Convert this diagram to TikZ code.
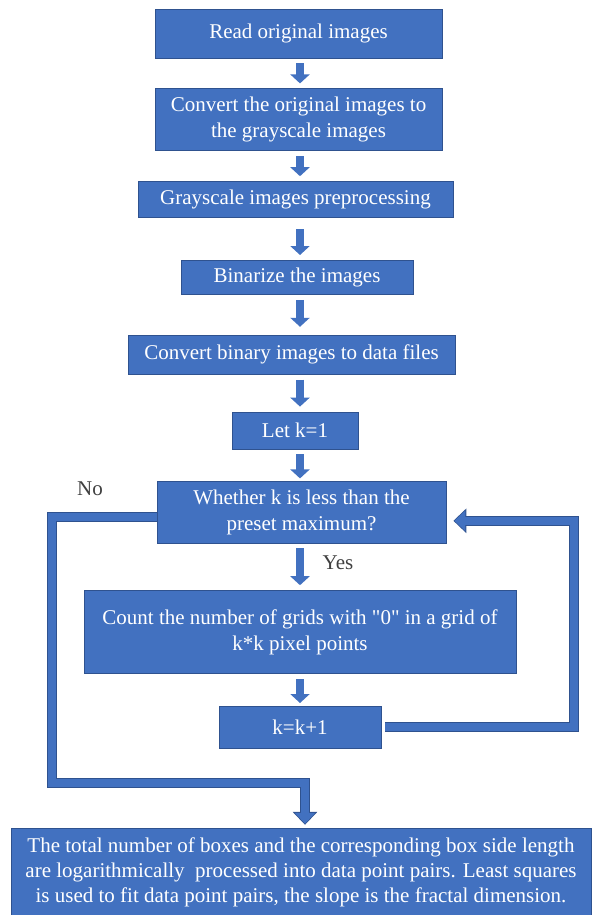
\documentclass[tikz,border=0pt]{standalone}
\usepackage{fontspec}
\setmainfont{Liberation Serif}[Ligatures=TeXOff]
\usetikzlibrary{arrows.meta,positioning,calc}
\definecolor{boxblue}{RGB}{66,113,192}
\definecolor{boxedge}{RGB}{47,82,143}
\definecolor{labelgray}{RGB}{64,64,64}

\begin{document}
\begin{tikzpicture}[x=1pt,y=-1pt,
  stepbox/.style={rectangle,draw=boxedge,fill=boxblue,line width=0.8pt,text=white,
    align=center,inner sep=0pt,font=\fontsize{21}{26}\selectfont},
  downarrow/.style={draw=boxblue,line width=8pt,-{Triangle[width=19pt,length=9pt]},
    shorten <=5pt,shorten >=5pt},
  looparrow/.style={draw=boxblue,line width=8pt,-{Triangle[width=20pt,length=11pt]},shorten >=1pt,
    preaction={draw=boxedge,line width=10pt,-{Triangle[width=24pt,length=13pt]},shorten >=0pt}},
  answer/.style={text=labelgray,font=\fontsize{21}{26}\selectfont}]
\useasboundingbox (0,0) rectangle (597,915);
\coordinate (spine) at (300,0);

\node[stepbox,minimum width=287pt,minimum height=49pt] (read) at (298.5,33.5) {Read original images};
\node[stepbox,minimum width=287pt,minimum height=62pt] (gray) [below=30pt of read]
  {Convert the original images to\\the grayscale images};
\node[stepbox,minimum width=315pt,minimum height=36pt] (prep) [below=30pt of gray,xshift=-3pt]
  {Grayscale images preprocessing};
\node[stepbox,minimum width=232pt,minimum height=34pt] (binar) [below=42pt of prep,xshift=1.5pt]
  {Binarize the images};
\node[stepbox,minimum width=327pt,minimum height=39pt] (data) [below=40pt of binar,xshift=-5.5pt]
  {Convert binary images to data files};
\node[stepbox,minimum width=126pt,minimum height=37pt] (letk) [below=37pt of data,xshift=3.5pt]
  {Let k=1};
\node[stepbox,minimum width=289pt,minimum height=62pt] (cond) [below=32pt of letk,xshift=6.5pt]
  {Whether k is less than the\\preset maximum?};
\node[stepbox,minimum width=432pt,minimum height=83pt] (count) [below=46pt of cond,xshift=-1.5pt]
  {Count the number of grids with "0" in a grid of\\k*k pixel points};
\node[stepbox,minimum width=162pt,minimum height=42pt] (inc) [below=32pt of count]
  {k=k+1};
\node[stepbox,minimum width=580pt,minimum height=88pt,font=\fontsize{21}{25}\selectfont] (result)
  [below=79pt of inc,xshift=1pt]
  {The total number of boxes and the corresponding box side length\\
   are logarithmically~ processed into data point pairs. Least squares\\
   is used to fit data point pairs, the slope is the fractal dimension.};

\node[answer] (no) at (90,489) {No};
\node[answer] (yes) at (338,563) {Yes};

\draw[downarrow] (spine |- read.south) -- (spine |- gray.north);
\draw[downarrow] (spine |- gray.south) -- (spine |- prep.north);
\draw[downarrow,shorten <=11pt] (spine |- prep.south) -- (spine |- binar.north);
\draw[downarrow,shorten >=8pt] (spine |- binar.south) -- (spine |- data.north);
\draw[downarrow] (spine |- data.south) -- (spine |- letk.north);
\draw[downarrow,shorten >=3pt] (spine |- letk.south) -- (spine |- cond.north);
\draw[downarrow,shorten <=4pt] (spine |- cond.south) -- (spine |- count.north);
\draw[downarrow,shorten >=3pt] (spine |- count.south) -- (spine |- inc.north);

% loop back and exit
\draw[looparrow] ($(inc.east)+(4,0)$) -| ($(cond.east)+(128,8)$) -- ($(cond.east)+(7,8)$);
\draw[looparrow] ($(cond.west)+(0,4)$) -| ($(cond.west)+(-105,270)$) -| ($(result.north)+(4,-3)$);
\end{tikzpicture}
\end{document}
